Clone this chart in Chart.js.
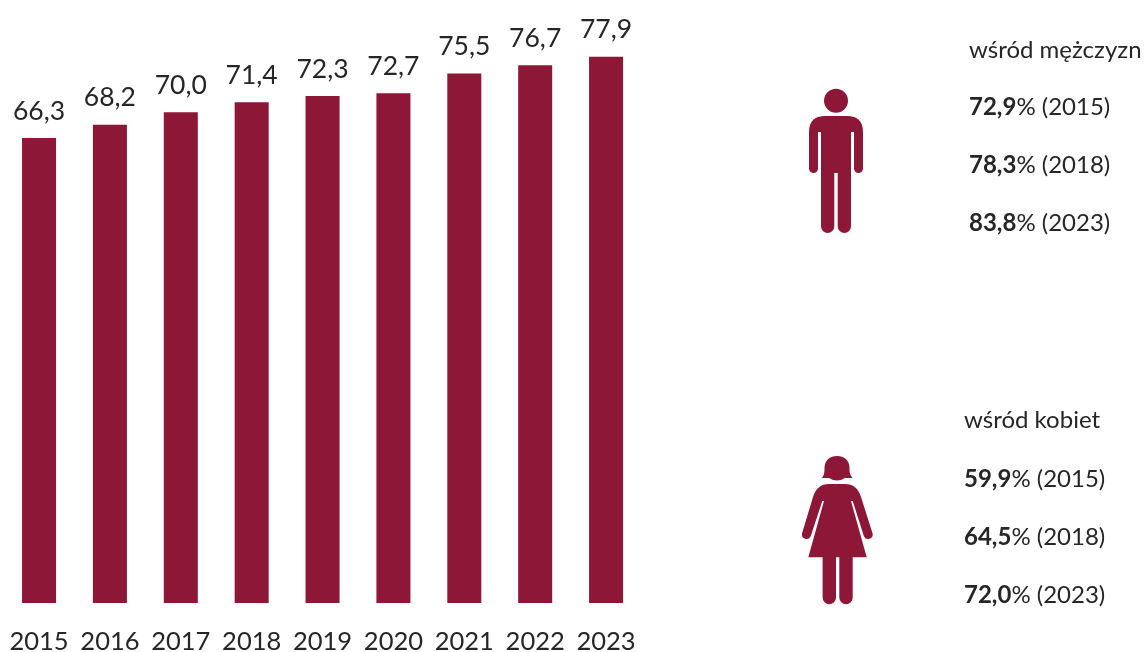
<!DOCTYPE html>
<html lang="pl">
<head>
<meta charset="utf-8">
<title>Wykres</title>
<script src="https://cdn.jsdelivr.net/npm/chart.js@4"></script>
<style>
    html, body { margin: 0; padding: 0; background: #fff; }
    #wrap { position: relative; width: 1145px; height: 652px; overflow: hidden; font-family: Lato, sans-serif; color: #262626; }
    #bars { position: absolute; left: 0; top: 0; }
    #icons { position: absolute; left: 0; top: 0; }
    .side { position: absolute; font-size: 24px; line-height: 28px; white-space: nowrap; }
</style>
</head>
<body>
<div id="wrap">
    <canvas id="bars" width="645" height="652" style="width:645px;height:652px"></canvas>
    <svg id="icons" width="1145" height="652" viewBox="0 0 1145 652">
        <g fill="#8c1737">
            <!-- man -->
            <circle cx="836" cy="100.7" r="12"/>
            <path d="M809 132Q809 116 825 116H847Q863 116 863 132V168.5a4.5 4.5 0 0 1-9 0V132H851V226.4a6.65 6.65 0 0 1-13.3 0V173H834.3V226.4a6.65 6.65 0 0 1-13.3 0V132H818V168.5a4.5 4.5 0 0 1-9 0Z"/>
            <!-- woman -->
            <path d="M822 478C824.5 475 824.5 471 824.5 468C824.5 460 830 456 837 456C844 456 849.5 460 849.5 468C849.5 471 849.5 475 852.7 478H845Q837 483 829 478Z"/>
            <path d="M829 484H845Q857 484 861 497L872.6 533.5a4.6 4.6 0 0 1-8.6 3L852.7 501H851L866.7 557.3H852.7V597.5a6.7 6.7 0 0 1-13.4 0V557.3H836V597.5a6.7 6.7 0 0 1-13.4 0V557.3H808.3L824 501H822.3L810.6 536.5a4.6 4.6 0 0 1-8.6-3L813 497Q817 484 829 484Z"/>
        </g>
    </svg>
    <div id="side"></div>
</div>
<script>
const years = ['2015', '2016', '2017', '2018', '2019', '2020', '2021', '2022', '2023'];
const totalValues = [66.3, 68.2, 70.0, 71.4, 72.3, 72.7, 75.5, 76.7, 77.9];

const sideYears = ['2015', '2018', '2023'];
const menValues = [72.9, 78.3, 83.8];
const womenValues = [59.9, 64.5, 72.0];

const barColor = '#8c1737';
const textColor = '#262626';
const fontFamily = 'Lato, sans-serif';

// polish decimal comma
function fmt(v) {
    return v.toFixed(1).replace('.', ',');
}

// Side panel text
function addSideLine(html, x, centerY) {
    const el = document.createElement('div');
    el.className = 'side';
    el.style.left = x + 'px';
    el.style.top = (centerY - 14) + 'px';
    el.innerHTML = html;
    document.getElementById('side').appendChild(el);
}

function addSideBlock(title, values, x, rows) {
    addSideLine(title, x, rows[0]);
    values.forEach((v, i) => {
        addSideLine(`<b>${fmt(v)}</b>% (${sideYears[i]})`, x, rows[i + 1]);
    });
}

addSideBlock('wśród mężczyzn', menValues, 969, [49, 106, 164, 222]);
addSideBlock('wśród kobiet', womenValues, 964, [419, 478, 536, 594]);

// Value labels above the bars
const valueLabels = {
    id: 'valueLabels',
    afterDatasetsDraw(chart) {
        const ctx = chart.ctx;
        const meta = chart.getDatasetMeta(0);
        ctx.save();
        ctx.font = '26.5px ' + fontFamily;
        ctx.fillStyle = textColor;
        ctx.textAlign = 'center';
        ctx.textBaseline = 'alphabetic';
        meta.data.forEach((bar, i) => {
            ctx.fillText(fmt(totalValues[i]), bar.x, bar.y - 18.5);
        });
        ctx.restore();
    }
};

new Chart(document.getElementById('bars'), {
    type: 'bar',
    data: {
        labels: years,
        datasets: [{
            data: totalValues,
            backgroundColor: barColor,
            barPercentage: 0.48,
            categoryPercentage: 1
        }]
    },
    options: {
        responsive: false,
        animation: false,
        layout: { padding: { top: 7, left: 3.6, right: 3.5, bottom: 0 } },
        plugins: {
            legend: { display: false },
            tooltip: { enabled: false },
            title: { display: false }
        },
        scales: {
            y: { display: false, min: 0, max: 85 },
            x: {
                grid: { display: false },
                border: { display: false },
                afterFit(scale) {
                    scale.height = 49;
                    // no extra side room for the tick labels
                    scale.paddingLeft = 0;
                    scale.paddingRight = 0;
                },
                ticks: {
                    color: textColor,
                    font: { family: fontFamily, size: 25.5 },
                    padding: 15,
                    autoSkip: false,
                    maxRotation: 0
                }
            }
        }
    },
    plugins: [valueLabels]
});
</script>
</body>
</html>
